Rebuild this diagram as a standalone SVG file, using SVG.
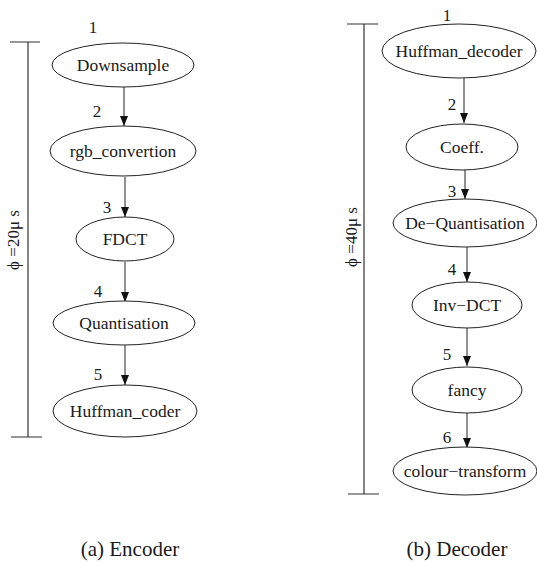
<svg xmlns="http://www.w3.org/2000/svg" width="537" height="563" viewBox="0 0 537 563">
  <defs>
    <marker id="arrow" markerWidth="10" markerHeight="8" refX="10" refY="4" orient="auto" markerUnits="userSpaceOnUse">
      <path d="M0,0 L10,4 L0,8 Z" fill="#111"/>
    </marker>
  </defs>
  <style>
    text { font-family: "Liberation Serif", "Times New Roman", serif; fill: #1a1a1a; text-anchor: middle; }
    .node ellipse { fill: #fff; stroke: #222; stroke-width: 1; }
    .label { font-size: 17.5px; }
    .num { font-size: 17px; }
    .edges { stroke: #222; stroke-width: 1; fill: none; }
    .edges line { marker-end: url(#arrow); }
    .bar { stroke: #333; stroke-width: 1.2; fill: none; }
    .period { font-size: 17px; }
    .caption { font-size: 21px; }
  </style>
  <rect width="537" height="563" fill="#fff"/>

  <!-- Encoder period bar -->
  <g id="encoder-period">
    <path class="bar" d="M10,42 H40 M28,42 V437 M11,437 H42"/>
    <text class="period" transform="translate(19,240) rotate(-90)">ϕ =20μ s</text>
  </g>

  <!-- Encoder connectors -->
  <g id="encoder-edges" class="edges">
    <line x1="124" y1="87" x2="124" y2="126"/>
    <line x1="125" y1="177" x2="125" y2="217"/>
    <line x1="125" y1="262" x2="125" y2="302"/>
    <line x1="125" y1="345" x2="125" y2="385"/>
  </g>

  <!-- Encoder nodes -->
  <g id="downsample" class="node">
    <ellipse cx="123" cy="65" rx="71" ry="22"/>
    <text class="label" x="123" y="71">Downsample</text>
    <text class="num" x="93" y="33">1</text>
  </g>
  <g id="rgb_convertion" class="node">
    <ellipse cx="123" cy="151" rx="73" ry="25"/>
    <text class="label" x="123" y="157">rgb_convertion</text>
    <text class="num" x="97" y="117">2</text>
  </g>
  <g id="fdct" class="node">
    <ellipse cx="125" cy="239" rx="49" ry="22"/>
    <text class="label" x="125" y="245">FDCT</text>
    <text class="num" x="107" y="213">3</text>
  </g>
  <g id="quantisation" class="node">
    <ellipse cx="124" cy="323" rx="71" ry="22"/>
    <text class="label" x="124" y="329">Quantisation</text>
    <text class="num" x="98" y="297">4</text>
  </g>
  <g id="huffman_coder" class="node">
    <ellipse cx="125" cy="411" rx="72" ry="26"/>
    <text class="label" x="125" y="417">Huffman_coder</text>
    <text class="num" x="98" y="380">5</text>
  </g>

  <!-- Decoder period bar -->
  <g id="decoder-period">
    <path class="bar" d="M347,24 H378 M364,24 V494 M348,494 H379"/>
    <text class="period" transform="translate(357,237) rotate(-90)">ϕ =40μ s</text>
  </g>

  <!-- Decoder connectors -->
  <g id="decoder-edges" class="edges">
    <line x1="464" y1="78" x2="464" y2="123"/>
    <line x1="465" y1="170" x2="465" y2="199"/>
    <line x1="467" y1="247" x2="467" y2="282"/>
    <line x1="467" y1="328" x2="467" y2="366"/>
    <line x1="467" y1="413" x2="467" y2="448"/>
  </g>

  <!-- Decoder nodes -->
  <g id="huffman_decoder" class="node">
    <ellipse cx="459" cy="51" rx="77" ry="27"/>
    <text class="label" x="459" y="57">Huffman_decoder</text>
    <text class="num" x="447" y="21">1</text>
  </g>
  <g id="coeff" class="node">
    <ellipse cx="462" cy="147" rx="56" ry="23"/>
    <text class="label" x="462" y="153">Coeff.</text>
    <text class="num" x="452" y="110">2</text>
  </g>
  <g id="de-quantisation" class="node">
    <ellipse cx="465" cy="223" rx="72" ry="24"/>
    <text class="label" x="465" y="229">De−Quantisation</text>
    <text class="num" x="452" y="197">3</text>
  </g>
  <g id="inv-dct" class="node">
    <ellipse cx="467" cy="305" rx="55" ry="23"/>
    <text class="label" x="467" y="311">Inv−DCT</text>
    <text class="num" x="452" y="275">4</text>
  </g>
  <g id="fancy" class="node">
    <ellipse cx="467" cy="390" rx="55" ry="23"/>
    <text class="label" x="467" y="396">fancy</text>
    <text class="num" x="447" y="360">5</text>
  </g>
  <g id="colour-transform" class="node">
    <ellipse cx="465" cy="471" rx="72" ry="24"/>
    <text class="label" x="465" y="477">colour−transform</text>
    <text class="num" x="447" y="443">6</text>
  </g>

  <!-- Captions -->
  <text class="caption" x="130" y="556">(a) Encoder</text>
  <text class="caption" x="457" y="556">(b) Decoder</text>
</svg>
